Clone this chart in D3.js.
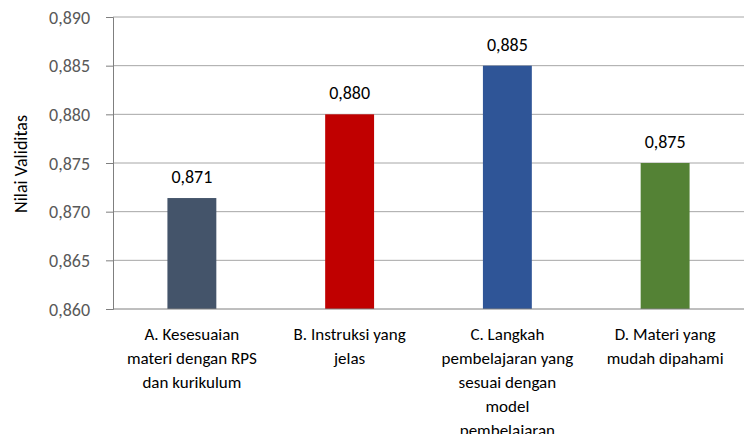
<html lang="id">
  <head>
    <meta charset="utf-8">
    <title>Nilai Validitas</title>
    <script src="https://d3js.org/d3.v7.min.js"></script>
    <style>
      body { margin: 0; background: #fff; }
      text { font-family: Carlito, Calibri, Lato, "Liberation Sans", sans-serif; }
      .tick text { fill: #595959; font-size: 18px; }
      .label { font-size: 18px; fill: #000; }
      .ytitle { font-size: 18px; fill: #000; }
      .cat { font-size: 17px; fill: #000; }
    </style>
  </head>
  <body>
    <script>
    // data
    var categories = ["A", "B", "C", "D"];
    var catLabels = [
      ["A. Kesesuaian", "materi dengan RPS", "dan kurikulum"],
      ["B. Instruksi yang", "jelas"],
      ["C. Langkah", "pembelajaran yang", "sesuai dengan", "model", "pembelajaran"],
      ["D. Materi yang", "mudah dipahami"]
    ];
    var values = [0.8714, 0.880, 0.885, 0.875];
    var valueLabels = ["0,871", "0,880", "0,885", "0,875"];
    var colors = ["#44546A", "#C00000", "#2F5597", "#548235"];
    var yTicks = [0.860, 0.865, 0.870, 0.875, 0.880, 0.885, 0.890];

    var W = 744, H = 434;
    var margin = { top: 17, right: 0, bottom: 125, left: 113 };
    var w = W - margin.left - margin.right;
    var h = H - margin.top - margin.bottom;

    var svg = d3.select("body").append("svg")
      .attr("width", W).attr("height", H);
    var g = svg.append("g")
      .attr("transform", "translate(" + margin.left + "," + margin.top + ")");

    var x = d3.scaleBand().domain(categories).range([0, w]).paddingInner(0.69).paddingOuter(0.345);
    var y = d3.scaleLinear().domain([0.860, 0.890]).range([h, 0]);
    var fmt = function(d) { return d3.format(".3f")(d).replace(".", ","); };

    // gridlines
    g.selectAll(".grid").data(yTicks.slice(1)).enter().append("line")
      .attr("x1", 0).attr("x2", w)
      .attr("y1", function(d) { return y(d); }).attr("y2", function(d) { return y(d); })
      .attr("stroke", "#a6a6a6").attr("stroke-width", 1);

    var yAxis = g.append("g").call(d3.axisLeft(y).tickValues(yTicks).tickFormat(fmt).tickSize(7).tickPadding(16));
    yAxis.select(".domain").attr("stroke", "#7f7f7f");
    yAxis.selectAll(".tick line").attr("stroke", "#7f7f7f");
    yAxis.selectAll(".tick text").attr("dy", "0.35em");

    g.selectAll(".bar").data(values).enter().append("rect")
      .attr("x", function(d, i) { return x(categories[i]); })
      .attr("width", x.bandwidth())
      .attr("y", function(d) { return y(d); })
      .attr("height", function(d) { return h - y(d); })
      .attr("fill", function(d, i) { return colors[i]; });

    // x axis line
    g.append("line").attr("x1", 0).attr("x2", w).attr("y1", h).attr("y2", h)
      .attr("stroke", "#7f7f7f");

    g.selectAll(".vlabel").data(values).enter().append("text")
      .attr("class", "label")
      .attr("x", function(d, i) { return x(categories[i]) + x.bandwidth() / 2; })
      .attr("y", function(d) { return y(d) - 15; })
      .attr("text-anchor", "middle")
      .text(function(d, i) { return valueLabels[i]; });

    catLabels.forEach(function(lines, i) {
      var t = g.append("text").attr("class", "cat")
        .attr("text-anchor", "middle")
        .attr("x", x(categories[i]) + x.bandwidth() / 2)
        .attr("y", h + 31);
      lines.forEach(function(l, j) {
        t.append("tspan").attr("x", x(categories[i]) + x.bandwidth() / 2)
          .attr("dy", j === 0 ? 0 : 24).text(l);
      });
    });

    svg.append("text").attr("class", "ytitle")
      .attr("transform", "translate(27,164) rotate(-90)")
      .attr("text-anchor", "middle")
      .text("Nilai Validitas");
    </script>
  </body>
</html>
